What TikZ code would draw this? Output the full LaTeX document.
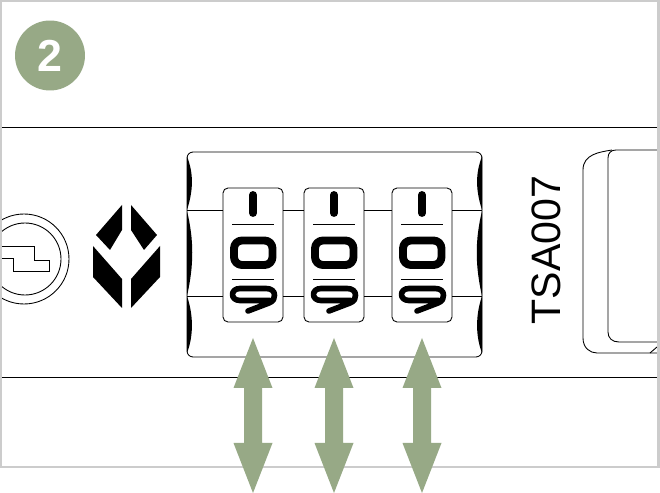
\documentclass[tikz,border=0pt]{standalone}
\usepackage{fontspec}
\setmainfont{Liberation Sans}
\definecolor{sage}{HTML}{97A986}
\definecolor{framegrey}{HTML}{CCCCCC}
\tikzset{
    thinline/.style={draw=black,line width=0.5pt},
    lockbody/.style={thinline,fill=white,rectangle,rounded corners=0.12cm,minimum width=5.9cm,minimum height=4.1cm,inner sep=0pt},
    wheel/.style={thinline,fill=white,rectangle,rounded corners=0.1cm,minimum width=1.2cm,minimum height=2.68cm,inner sep=0pt},
    badge/.style={circle,fill=sage,text=white,minimum size=1.4cm,inner sep=0pt,font=\bfseries\fontsize{25.5pt}{25.5pt}\selectfont},
    digit/.style={draw=black,line width=4.5pt,line cap=round,line join=round},
    pics/digits/.style={code={
        \draw[thinline] (-21,-31) -- (21,-31);
        \draw[thinline] (-21,24) -- (21,24);
        \draw[digit] (0,-60) -- (0,-42);
        \draw[digit,rounded corners=0.16cm] (-19,-14.5) rectangle (19.5,10);
        \draw[digit,line width=3.2pt] (-5,56) -- (16,48) .. controls (21,46) and (21.5,43) .. (21.5,40) .. controls (21.5,36) and (18,33.5) .. (13,33.5) -- (-13,33.5) .. controls (-23,33.5) and (-23,45.5) .. (-13,45.5) -- (17,45.5);
    }},
    pics/updown/.style={code={
        \fill[sage] (0,0) -- (19.5,50) -- (9,50) -- (9,105) -- (19.5,105) -- (0,155) -- (-19.5,105) -- (-9,105) -- (-9,50) -- (-19.5,50) -- cycle;
    }},
}
\begin{document}
\begin{tikzpicture}[x=0.02cm,y=-0.02cm]
    \fill[white] (0,0) rectangle (660,493);
    \useasboundingbox (0,0) rectangle (660,493);

    \node[badge] (num) at (50,55.5) {2};

    \coordinate (caseAl) at (2,127);
    \coordinate (caseAr) at (657,127);
    \coordinate (caseBl) at (2,377);
    \coordinate (caseBr) at (657,377);
    \draw[thinline] (caseAl) -- (caseAr);
    \draw[thinline] (caseBl) -- (caseBr);

    \draw[thinline] (24,259) circle (45);
    \draw[thinline] (25,259) circle (36);
    \draw[thinline] (2,246) -- (34,246) -- (34,260) -- (49,260) -- (49,271) -- (13,271) -- (13,258) -- (2,258);

    \fill (122,205) -- (122,230) -- (110,250) -- (96,235) -- cycle;
    \fill (131,205) -- (157,235) -- (144,250) -- (131,230) -- cycle;
    \fill (93,246) -- (122,279) -- (122,308) -- (93,277) -- cycle;
    \fill (160,246) -- (131,279) -- (131,308) -- (160,277) -- cycle;

    \node[lockbody] (body) at (334.5,254.5) {};
    \coordinate (slotAl) at (187,210);
    \coordinate (slotAr) at (482,210);
    \coordinate (slotBl) at (187,296);
    \coordinate (slotBr) at (482,296);
    \draw[thinline] (slotAl) -- (slotAr);
    \draw[thinline] (slotBl) -- (slotBr);

    \fill (187,156) .. controls (192,170) and (195,185) .. (187,210) -- cycle;
    \fill (187,211) .. controls (194,240) and (194,265) .. (187,296) -- cycle;
    \fill (187,296) .. controls (195,320) and (192,340) .. (187,353) -- cycle;
    \fill (482,156) .. controls (477,170) and (474,185) .. (482,210) -- cycle;
    \fill (482,211) .. controls (475,240) and (475,265) .. (482,296) -- cycle;
    \fill (482,296) .. controls (474,320) and (477,340) .. (482,353) -- cycle;

    \node[wheel] (w1) at (253,255) {};
    \node[wheel] (w2) at (334,255) {};
    \node[wheel] (w3) at (422,255) {};
    \pic (d1) at (w1.center) {digits};
    \pic (d2) at (w2.center) {digits};
    \pic (d3) at (w3.center) {digits};

    \node[rotate=90,font=\fontsize{23.4pt}{23.4pt}\selectfont] (model) at (546,250) {TSA007};

    \draw[thinline] (612,150) .. controls (600,152) and (583,154) .. (583,170) -- (583,338) .. controls (583,348) and (590,353) .. (597,353) -- (657,353);
    \draw[thinline] (657,150) -- (616,150) .. controls (611,150) and (608,153) .. (608,158) -- (608,332) .. controls (608,338) and (612,342) .. (619,342) -- (657,342);
    \draw[thinline] (657,347) -- (650,353);

    \draw[framegrey,line width=1.7pt] (1,467) -- (1,1) -- (658.5,1) -- (658.5,467) -- cycle;

    \pic (a1) at (253,338) {updown};
    \pic (a2) at (334,338) {updown};
    \pic (a3) at (422,338) {updown};
\end{tikzpicture}
\end{document}
